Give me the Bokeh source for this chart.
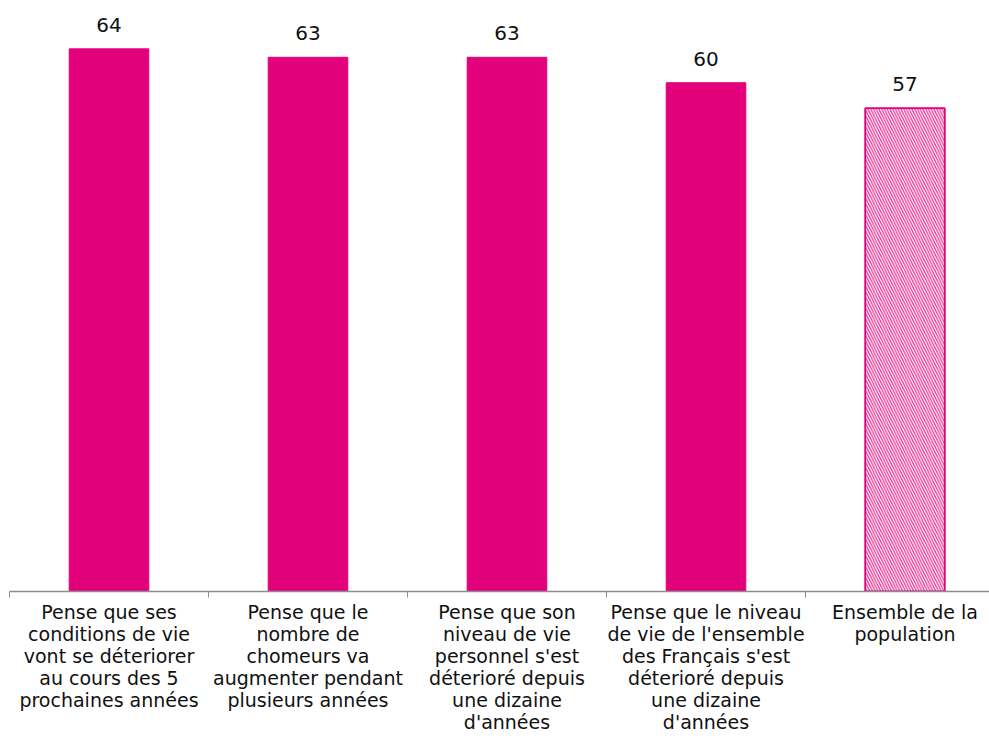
from bokeh.plotting import figure
from bokeh.models import ColumnDataSource, FixedTicker, Range1d
from bokeh.core.properties import value
from bokeh.embed import file_html
from bokeh.resources import INLINE

categories = [
    "Pense que ses\nconditions de vie\nvont se déteriorer\nau cours des 5\nprochaines années",
    "Pense que le\nnombre de\nchomeurs va\naugmenter pendant\nplusieurs années",
    "Pense que son\nniveau de vie\npersonnel s'est\ndéterioré depuis\nune dizaine\nd'années",
    "Pense que le niveau\nde vie de l'ensemble\ndes Français s'est\ndéterioré depuis\nune dizaine\nd'années",
    "Ensemble de la\npopulation",
]
values = [64, 63, 63, 60, 57]

PINK = "#E3007B"
FONT = "DejaVu Sans"

n = len(categories)
xs = [i + 0.5 for i in range(n)]
labels = [str(v) for v in values]

src_solid = ColumnDataSource(dict(x=xs[:-1], top=values[:-1], lab=labels[:-1]))
src_total = ColumnDataSource(dict(x=xs[-1:], top=values[-1:], lab=labels[-1:]))
src_lab = ColumnDataSource(dict(x=xs, top=values, lab=labels))

p = figure(width=989, height=740, output_backend="svg", toolbar_location=None,
           x_range=Range1d(0, 980 / 199), y_range=Range1d(0, 69.7),
           min_border_left=9, min_border_right=0, min_border_top=0, min_border_bottom=149)

p.vbar(x="x", top="top", bottom=0, width=0.4, source=src_solid,
       fill_color=PINK, line_color=PINK)
p.vbar(x="x", top="top", bottom=0, width=0.4, source=src_total,
       fill_color="white", line_color=PINK, line_width=1.8,
       hatch_pattern="\\", hatch_color=PINK, hatch_alpha=0.8,
       hatch_weight=1.3, hatch_scale=5.5)

p.text(x="x", y="top", text="lab", source=src_lab, text_align="center",
       text_baseline="alphabetic", y_offset=-24, text_font=value(FONT),
       text_font_size="20px", text_color="#111111")

p.yaxis.visible = False
p.xgrid.visible = False
p.ygrid.visible = False
p.outline_line_color = None

ax = p.xaxis[0]
ax.ticker = FixedTicker(ticks=xs, minor_ticks=list(range(n + 1)))
ax.major_label_overrides = {x: c for x, c in zip(xs, categories)}
ax.major_tick_line_color = None
ax.major_tick_out = 6
ax.major_tick_in = 0
ax.minor_tick_line_color = "#8C8C8C"
ax.minor_tick_out = 6
ax.minor_tick_in = 0
ax.axis_line_color = "#8C8C8C"
ax.axis_line_width = 1.5
ax.major_label_standoff = 3
ax.major_label_text_font = FONT
ax.major_label_text_font_size = "19px"
ax.major_label_text_color = "#111111"
ax.major_label_text_line_height = 1.0
ax.major_label_orientation = "horizontal"

open("out.html", "w").write(file_html(p, INLINE))
